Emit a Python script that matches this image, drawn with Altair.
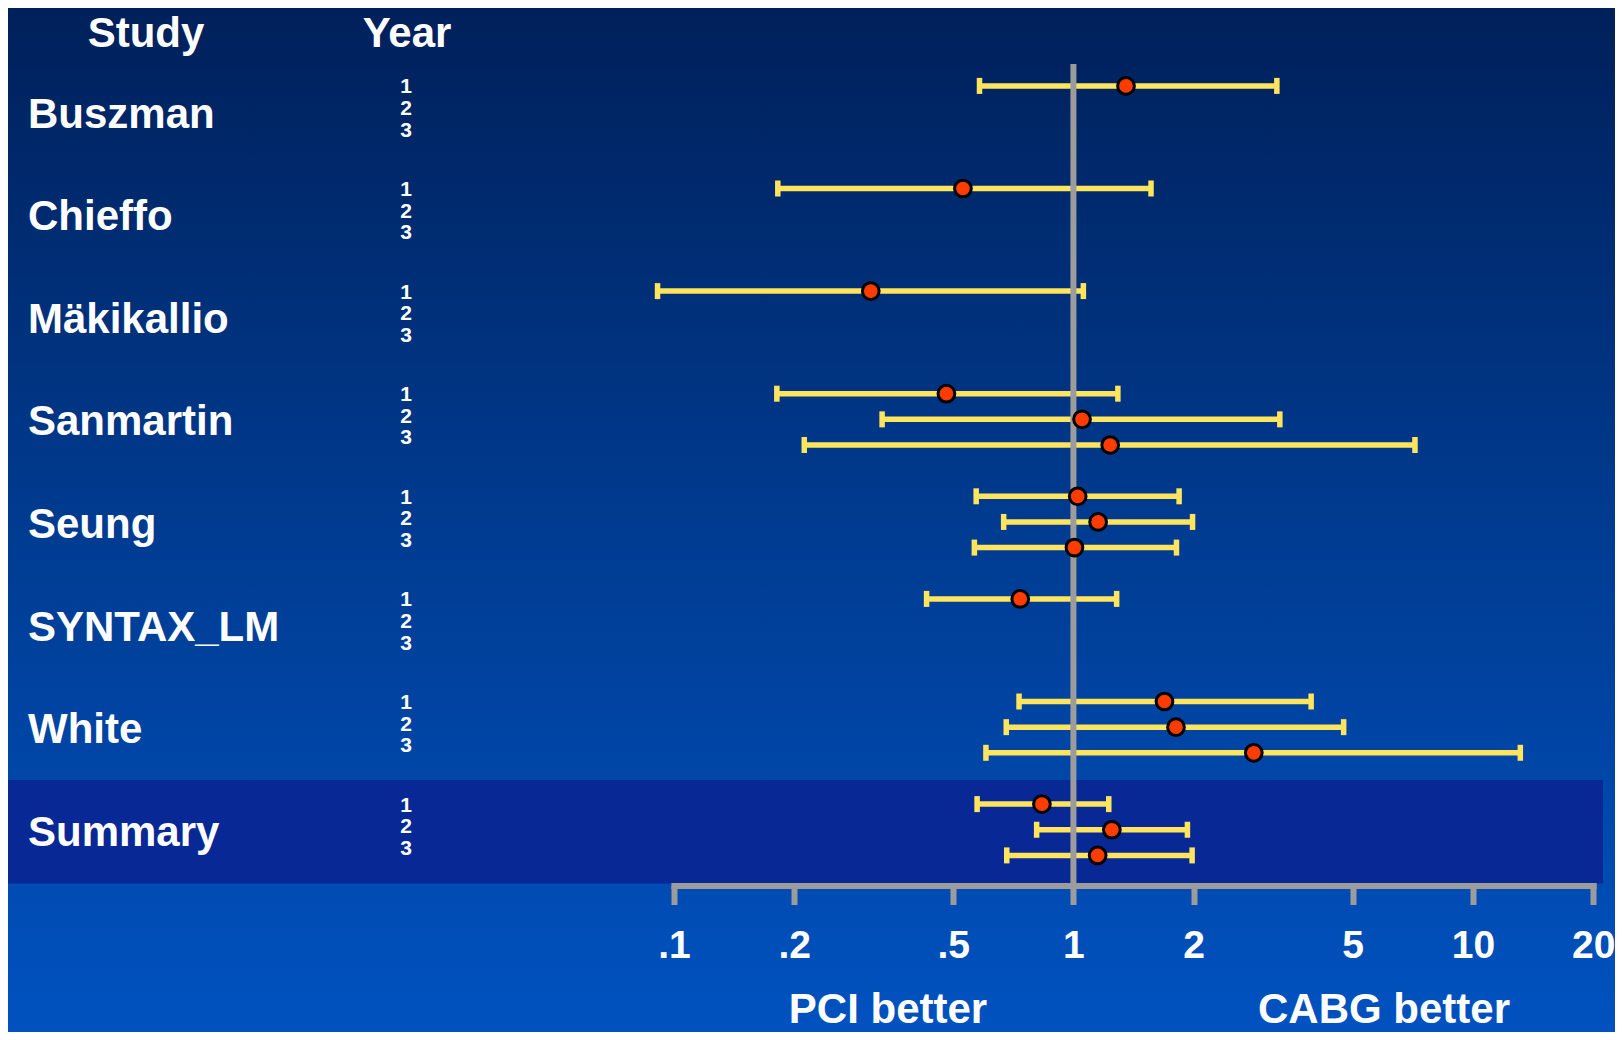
import altair as alt
import pandas as pd

# ---------------- data ----------------
studies = ["Buszman", "Chieffo", "Mäkikallio", "Sanmartin", "Seung", "SYNTAX_LM", "White", "Summary"]
years = [1, 2, 3]

row_study = ["Buszman", "Chieffo", "Mäkikallio",
             "Sanmartin", "Sanmartin", "Sanmartin",
             "Seung", "Seung", "Seung",
             "SYNTAX_LM",
             "White", "White", "White",
             "Summary", "Summary", "Summary"]
row_year = [1, 1, 1, 1, 2, 3, 1, 2, 3, 1, 1, 2, 3, 1, 2, 3]
odds = [1.354, 0.529, 0.311, 0.481, 1.051, 1.236, 1.025, 1.153, 1.006, 0.736,
        1.69, 1.806, 2.828, 0.834, 1.248, 1.150]
lower = [0.582, 0.182, 0.091, 0.181, 0.332, 0.212, 0.571, 0.669, 0.565, 0.429,
         0.731, 0.679, 0.604, 0.574, 0.809, 0.681]
upper = [3.23, 1.564, 1.059, 1.292, 3.286, 7.16, 1.839, 1.987, 1.811, 1.283,
         3.936, 4.747, 13.14, 1.226, 1.929, 1.982]

tick_values = [0.1, 0.2, 0.5, 1, 2, 5, 10, 20]
tick_labels = [".1", ".2", ".5", "1", "2", "5", "10", "20"]

header_study = "Study"
header_year = "Year"
left_note = "PCI better"
right_note = "CABG better"
summary_name = "Summary"

# ---------------- layout ----------------
W, H = 1607, 1024
X0, X1 = 665.9, 1585.2
ROW0, GROUP = 77.9, 102.6
ROWSTEP = 0.25
LABSTEP = 0.21

YELLOW = "#ffe45e"
RED = "#ff3c00"
GREY = "#9c9c9c"
FONT = "Liberation Sans"

df = pd.DataFrame({"study": row_study, "year": row_year, "or": odds, "lo": lower, "hi": upper})
df["idx"] = df["study"].map(lambda s: studies.index(s))
df["y"] = df["idx"] + (df["year"] - 1) * ROWSTEP

lab_rows = []
for i, s in enumerate(studies):
    for yr in years:
        lab_rows.append({"study": s, "year": str(yr), "y": i + (yr - 1) * LABSTEP + 0.015})
labs = pd.DataFrame(lab_rows)

names = pd.DataFrame({"study": studies, "y": [i + ROWSTEP for i in range(len(studies))]})

band = pd.DataFrame({"study": [summary_name]})
band["top"] = studies.index(summary_name) - 0.235
band["bot"] = studies.index(summary_name) + 0.774

one = pd.DataFrame({"k": [0]})

xscale = alt.Scale(type="log", domain=[tick_values[0], tick_values[-1]], range=[X0, X1], nice=False)
yscale = alt.Scale(domain=[0, 7.5], range=[ROW0, ROW0 + 7.5 * GROUP], nice=False, zero=False)

label_expr = "{}[indexof({}, datum.value)]".format(
    "[" + ",".join("'%s'" % t for t in tick_labels) + "]",
    "[" + ",".join(str(v) for v in tick_values) + "]",
)

xaxis = alt.Axis(
    values=tick_values, labelExpr=label_expr, orient="bottom", offset=877.5 - H,
    title=None, grid=False, zindex=1,
    domainColor=GREY, domainWidth=6, domainCap="square",
    tickColor=GREY, tickWidth=6, tickSize=19,
    labelColor="white", labelFont=FONT, labelFontWeight="bold", labelFontSize=39,
    labelPadding=22, labelOverlap=False, labelFlush=False, labelBound=False,
)

# ---------------- layers ----------------
bg = alt.Chart(one).mark_rect(
    color=alt.Gradient(
        gradient="linear",
        stops=[alt.GradientStop(color="#00205a", offset=0),
               alt.GradientStop(color="#003b90", offset=0.5),
               alt.GradientStop(color="#0052c0", offset=1)],
        x1=0, x2=0, y1=0, y2=1,
    )
).encode(x=alt.value(0), x2=alt.value(W), y=alt.value(0), y2=alt.value(H))

band_layer = alt.Chart(band).mark_rect(color="#082896").encode(
    x=alt.value(0), x2=alt.value(1595),
    y=alt.Y("top:Q", scale=yscale, axis=None),
    y2="bot:Q",
)

bars = alt.Chart(df).mark_rule(color=YELLOW, strokeWidth=5.5).encode(
    x=alt.X("lo:Q", scale=xscale, axis=xaxis),
    x2="hi:Q",
    y=alt.Y("y:Q", scale=yscale, axis=None),
)

caps_lo = alt.Chart(df).mark_tick(color=YELLOW, orient="vertical", size=16, thickness=5.5, opacity=1).encode(
    x=alt.X("lo:Q", scale=xscale, axis=xaxis),
    y=alt.Y("y:Q", scale=yscale, axis=None),
)
caps_hi = alt.Chart(df).mark_tick(color=YELLOW, orient="vertical", size=16, thickness=5.5, opacity=1).encode(
    x=alt.X("hi:Q", scale=xscale, axis=xaxis),
    y=alt.Y("y:Q", scale=yscale, axis=None),
)

ref = alt.Chart(one).mark_rule(color=GREY, strokeWidth=6).encode(
    x=alt.X(datum=1, type="quantitative", scale=xscale, axis=xaxis),
    y=alt.value(56), y2=alt.value(877.5),
)

pts = alt.Chart(df).mark_circle(size=280, color=RED, opacity=1, stroke="black", strokeWidth=3).encode(
    x=alt.X("or:Q", scale=xscale, axis=xaxis),
    y=alt.Y("y:Q", scale=yscale, axis=None),
)

year_txt = alt.Chart(labs).mark_text(
    color="white", font=FONT, fontWeight="bold", fontSize=21, align="center", baseline="middle", dy=0
).encode(
    x=alt.value(398),
    y=alt.Y("y:Q", scale=yscale, axis=None),
    text="year:N",
)

name_txt = alt.Chart(names).mark_text(
    color="white", font=FONT, fontWeight="bold", fontSize=42, align="left", baseline="middle", dy=3
).encode(
    x=alt.value(20),
    y=alt.Y("y:Q", scale=yscale, axis=None),
    text="study:N",
)

def label(txt, x, y, size=42, align="center"):
    return alt.Chart(pd.DataFrame({"t": [txt]})).mark_text(
        color="white", font=FONT, fontWeight="bold", fontSize=size, align=align, baseline="middle"
    ).encode(x=alt.value(x), y=alt.value(y), text="t:N")

texts = [
    label(header_study, 138, 25.5),
    label(header_year, 399, 25.5),
    label(left_note, 880, 1002),
    label(right_note, 1376, 1002),
]

chart = alt.layer(
    bg, band_layer, bars, caps_lo, caps_hi, ref, pts, year_txt, name_txt, *texts
).properties(
    width=W, height=H,
    autosize=alt.AutoSizeParams(type="none"),
    padding=0,
    background="#003b90",
).configure_view(stroke=None)

chart.save("out.html", embed_options={"renderer": "svg", "actions": False})
